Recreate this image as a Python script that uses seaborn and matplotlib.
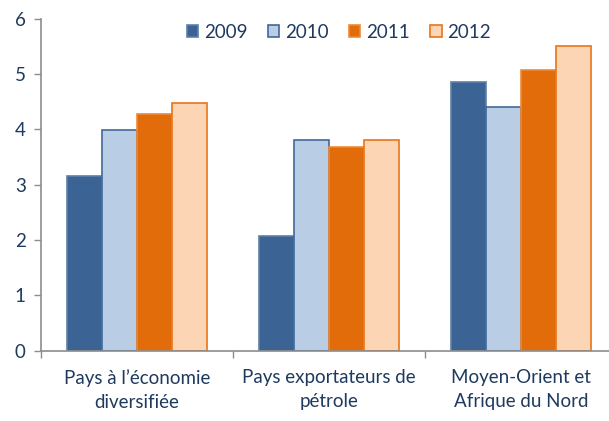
import pandas as pd
import numpy as np
import matplotlib
matplotlib.use("Agg")
import matplotlib.pyplot as plt
import seaborn as sns

# ---------------- data ----------------
categories = ["Pays à l\u2019économie\ndiversifiée",
              "Pays exportateurs de\npétrole",
              "Moyen-Orient et\nAfrique du Nord"]
years = ["2009", "2010", "2011", "2012"]
v2009 = [3.16, 2.08, 4.86]
v2010 = [3.99, 3.80, 4.40]
v2011 = [4.27, 3.68, 5.08]
v2012 = [4.48, 3.80, 5.51]

face_colors = ["#3B6393", "#B9CDE4", "#E36C0A", "#FCD5B4"]
edge_colors = ["#5E7FA8", "#41689A", "#EC8A3A", "#E8741A"]
text_col = "#1F3A5F"

rows = []
for yr, vals in zip(years, [v2009, v2010, v2011, v2012]):
    for cat, v in zip(categories, vals):
        rows.append({"cat": cat, "year": yr, "val": v})
df = pd.DataFrame(rows)

sns.set_style("white")
plt.rcParams["font.family"] = ["Lato", "DejaVu Sans"]

fig = plt.figure(figsize=(6.09, 4.21), dpi=100)
ax = fig.add_axes([41 / 609, 1 - 350.7 / 421, 576 / 609, 331.9 / 421])

sns.barplot(data=df, x="cat", y="val", hue="year", order=categories,
            hue_order=years, palette=face_colors, width=0.724, gap=0,
            saturation=1, errorbar=None, ax=ax, legend=False)

# bar edges per year
for i, cont in enumerate(ax.containers):
    for bar in cont:
        bar.set_edgecolor(edge_colors[i])
        bar.set_linewidth(1.2)

ax.set_xlim(-0.5, 2.5)
ax.set_ylim(0, 6)
ax.set_yticks(range(0, 7))
ax.set_xlabel("")
ax.set_ylabel("")

for side in ["top", "right"]:
    ax.spines[side].set_visible(False)
for side in ["left", "bottom"]:
    ax.spines[side].set_color("#8C8C8C")
    ax.spines[side].set_linewidth(1.2)

ax.tick_params(axis="y", length=5, width=1, color="#8C8C8C", direction="out",
               labelsize=13.5, labelcolor=text_col, pad=6, left=True)
ax.tick_params(axis="x", which="major", length=0, labelsize=13.5,
               labelcolor=text_col, pad=13)
ax.set_xticks([-0.5, 0.5, 1.5], minor=True)
ax.tick_params(axis="x", which="minor", length=5, width=1, color="#8C8C8C",
               direction="out", bottom=True)
for lbl in ax.get_xticklabels():
    lbl.set_linespacing(1.5)

# legend
handles = [plt.Rectangle((0, 0), 1, 1, facecolor=fc, edgecolor=ec, linewidth=1.2)
           for fc, ec in zip(face_colors, edge_colors)]
fig.legend(handles, years, loc="center", bbox_to_anchor=(339 / 609, 1 - 32 / 421),
           ncol=4, frameon=False, fontsize=13.5, labelcolor=text_col,
           handlelength=0.6, handleheight=0.6, handletextpad=0.3,
           columnspacing=1.1)

fig.savefig("out.png", dpi=100)
